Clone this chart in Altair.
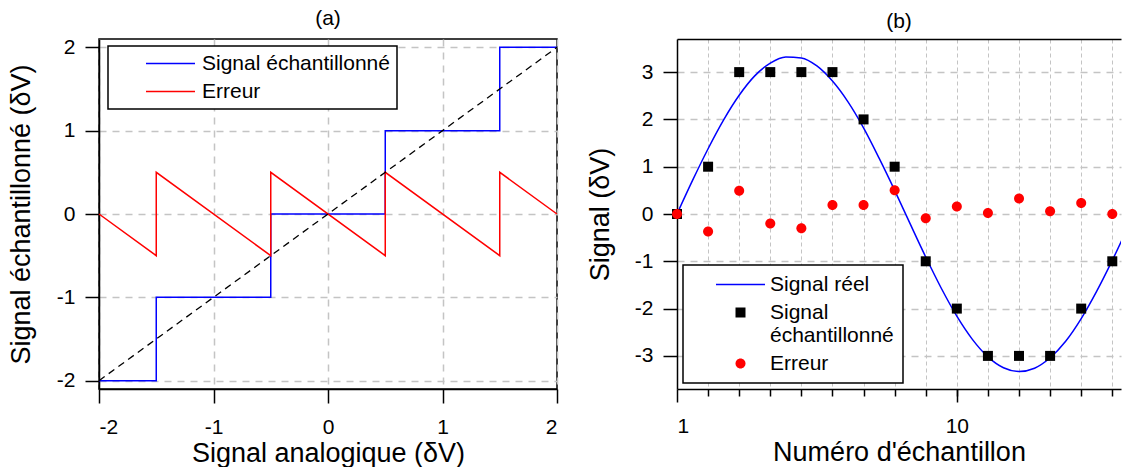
import altair as alt
import pandas as pd

FONT = "Liberation Sans"
NBSP = "\u00a0"

# ---------------- Panel (a) data ----------------
ana_x = [-2, -1.5, -1.5, -0.5, -0.5, 0.5, 0.5, 1.5, 1.5, 2]
ech_y = [-2, -2, -1, -1, 0, 0, 1, 1, 2, 2]
err_y = [0, -0.5, 0.5, -0.5, 0.5, -0.5, 0.5, -0.5, 0.5, 0]
diag_x = [-2, 2]
diag_y = [-2, 2]
series_a = ["Signal échantillonné", "Erreur"]
colors_a = ["#0000ff", "#ff0000"]

# ---------------- Panel (b) data ----------------
n_ech = [1, 2, 3, 4, 5, 6, 7, 8, 9, 10, 11, 12, 13, 14, 15]
sig_ech = [0, 1, 3, 3, 3, 3, 2, 1, -1, -2, -3, -3, -3, -2, -1]
err_b = [0, -0.37, 0.49, -0.2, -0.3, 0.19, 0.19, 0.5, -0.09, 0.16, 0.02, 0.33, 0.06, 0.23, 0.0]
curve_x = [1, 1.5, 2, 2.5, 3, 3.5, 4, 4.5, 5, 5.5, 6, 6.5, 7, 7.5, 8, 8.5,
           9, 9.5, 10, 10.5, 11, 11.5, 12, 12.5, 13, 13.5, 14, 14.5, 15, 15.5, 16]
curve_y = [0, 0.71, 1.38, 1.99, 2.51, 2.92, 3.19, 3.32, 3.30, 3.13, 2.81, 2.37,
           1.82, 1.18, 0.50, -0.21, -0.91, -1.57, -2.16, -2.65, -3.02, -3.25,
           -3.33, -3.26, -3.04, -2.69, -2.21, -1.63, -0.98, -0.28, 0.43]
series_b = ["Signal réel", "Signal échantillonné ", "Erreur "]
colors_b = ["#0000ff", "#000000", "#ff0000"]
# legend / point symbols (unit paths): long thin bar for the line entry, square, circle
shapes_b = ["M-4.9,-0.15H4.9V0.15H-4.9Z",
            "M-1,-1H1V1H-1Z",
            "M-1,0A1,1 0 1,0 1,0A1,1 0 1,0 -1,0Z"]
line_symbol_a = "M-4.9,0H4.9"
x_ticks_b = [1, 10]
x_minor_b = [2, 3, 4, 5, 6, 7, 8, 9, 10, 11, 12, 13, 14, 15]

GRID = "#c4c4c4"
LBL = "'' + datum.value"

# ---------------- Panel (a) ----------------
df_a = pd.DataFrame({
    "x": ana_x + ana_x,
    "y": ech_y + err_y,
    "serie": [series_a[0]] * len(ana_x) + [series_a[1]] * len(ana_x),
    "ordre": list(range(len(ana_x))) * 2,
})
df_diag = pd.DataFrame({"x": diag_x, "y": diag_y})

xa = alt.X("x:Q", scale=alt.Scale(domain=[-2, 2], nice=False, zero=False),
           axis=alt.Axis(values=[-2, -1, 0, 1, 2], title="Signal analogique (δV)",
                         grid=True, gridColor=GRID, gridDash=[7, 6], gridWidth=1.5,
                         tickSize=14, labelPadding=13, titlePadding=3, labelExpr=LBL))
ya = alt.Y("y:Q", scale=alt.Scale(domain=[-2.1, 2.1], nice=False, zero=False),
           axis=alt.Axis(values=[-2, -1, 0, 1, 2], title="Signal échantillonné (δV)",
                         grid=True, gridColor=GRID, gridDash=[7, 6], gridWidth=1.5,
                         tickSize=14, labelPadding=10, titlePadding=21, labelExpr=LBL))

lines_a = alt.Chart(df_a).mark_line(strokeWidth=1.5).encode(
    x=xa, y=ya,
    order=alt.Order("ordre:Q"),
    color=alt.Color("serie:N", scale=alt.Scale(domain=series_a, range=colors_a),
                    legend=alt.Legend(title=None, orient="none", legendX=9, legendY=7,
                                      symbolType=line_symbol_a, symbolSize=100,
                                      symbolStrokeWidth=1.5, padding=7,
                                      symbolOffset=45, labelOffset=21, rowPadding=6)),
)
diag = alt.Chart(df_diag).mark_line(color="black", strokeWidth=1.3, strokeDash=[7, 5]).encode(
    x="x:Q", y="y:Q")

panel_a = alt.layer(lines_a, diag).properties(
    width=458, height=350,
    title=alt.TitleParams("(a)", fontSize=21, font=FONT, fontWeight="normal", offset=7),
)

# ---------------- Panel (b) ----------------
df_curve = pd.DataFrame({"n": curve_x, "v": curve_y})
df_ech = pd.DataFrame({"n": n_ech, "v": sig_ech, "cat": series_b[1]})
df_err = pd.DataFrame({"n": n_ech, "v": err_b, "cat": series_b[2]})

xscale_b = alt.Scale(domain=[1, 15.28], nice=False, zero=False)
yscale_b = alt.Scale(domain=[-3.7, 3.7], nice=False, zero=False)
y_axis_b = alt.Axis(values=[-3, -2, -1, 0, 1, 2, 3], title="Signal (δV)",
                    grid=True, gridColor=GRID, gridDash=[7, 6], gridWidth=1.5,
                    tickSize=14, labelPadding=10, titlePadding=20, labelExpr=LBL)
x_major_b = alt.Axis(values=x_ticks_b, title="Numéro d'échantillon", grid=False,
                     tickSize=13, labelPadding=13, titlePadding=3, labelExpr=LBL,
                     orient="bottom")
x_minor_axis = alt.Axis(values=x_minor_b, title=None, labels=False, domain=False,
                        grid=True, gridColor=GRID, gridDash=[4, 3], gridWidth=1,
                        tickSize=7, orient="bottom")
x_top_axis = alt.Axis(orient="top", title=None, labels=False, ticks=False, grid=False,
                      domain=True)

leg_b = alt.Legend(
    title=None, orient="none", legendX=6, legendY=226,
    symbolSize=100, symbolStrokeWidth=0, padding=9, symbolOffset=38,
    labelOffset=19, rowPadding=6,
    labelExpr="datum.label == 'Signal échantillonné ' ? ['Signal', '" + NBSP + "échantillonné'] : trim(datum.label)",
)
color_b = alt.Color("cat:N", scale=alt.Scale(domain=series_b, range=colors_b), legend=leg_b)
shape_b = alt.Shape("cat:N", scale=alt.Scale(domain=series_b, range=shapes_b), legend=leg_b)

curve = alt.Chart(df_curve).mark_line(strokeWidth=1.5, interpolate="monotone",
                                      color="#0000ff", clip=True).encode(
    x=alt.X("n:Q", scale=xscale_b, axis=x_minor_axis),
    y=alt.Y("v:Q", scale=yscale_b, axis=y_axis_b),
)
squares = alt.Chart(df_ech).mark_point(filled=True, size=100, opacity=1).encode(
    x=alt.X("n:Q", scale=xscale_b, axis=x_major_b),
    y=alt.Y("v:Q", scale=yscale_b, axis=y_axis_b),
    color=color_b, shape=shape_b,
)
circles = alt.Chart(df_err).mark_point(filled=True, size=100, opacity=1).encode(
    x=alt.X("n:Q", scale=xscale_b, axis=x_top_axis),
    y=alt.Y("v:Q", scale=yscale_b, axis=y_axis_b),
    color=color_b, shape=shape_b,
)

panel_b = alt.layer(curve, squares, circles).resolve_axis(x="independent").properties(
    width=444, height=350,
    view=alt.ViewBackground(stroke="transparent"),
    title=alt.TitleParams("(b)", fontSize=21, font=FONT, fontWeight="normal", offset=7),
)

chart = alt.hconcat(panel_a, panel_b, spacing=24).resolve_scale(
    color="independent", shape="independent"
).resolve_legend(color="independent", shape="independent").properties(
    padding={"left": -2, "top": -1, "right": 0, "bottom": 0}
).configure(font=FONT).configure_view(
    stroke="black", strokeWidth=1.5
).configure_axis(
    labelFont=FONT, titleFont=FONT, labelFontSize=21, titleFontSize=27,
    labelColor="black", titleColor="black", titleFontWeight="normal",
    domainColor="black", domainWidth=1.5, tickColor="black", tickWidth=1.5,
).configure_legend(
    labelFont=FONT, labelFontSize=21, labelColor="black", strokeColor="black",
    strokeWidth=1.5, fillColor="white", cornerRadius=0, labelLimit=400,
)

chart.save("out.html", embed_options={"renderer": "svg", "actions": False})
